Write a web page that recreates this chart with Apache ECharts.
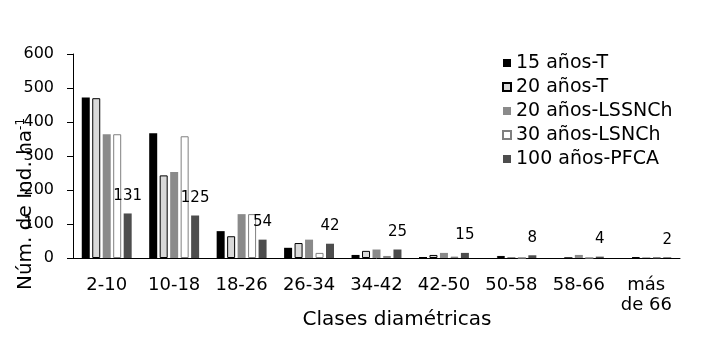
<!DOCTYPE html>
<html><head><meta charset="utf-8">
<script src="https://cdn.jsdelivr.net/npm/echarts@6/dist/echarts.min.js"></script>
<style>html,body{margin:0;padding:0;background:#fff}#c{width:706px;height:337px}</style>
</head><body><div id="c"></div>
<script>
const categories = ['2-10','10-18','18-26','26-34','34-42','42-50','50-58','58-66','más\nde 66'];
const seriesNames = ['15 años-T','20 años-T','20 años-LSSNCh','30 años-LSNCh','100 años-PFCA'];
const s15T = [472, 367, 79, 30, 9, 3, 0, 0, 0];
const s20T = [470, 243, 64, 44, 21, 9, 6, 0, 2];
const s20L = [364, 253, 129, 54, 25, 15, 3, 9, 2];
const s30L = [364, 358, 129, 15, 6, 4, 0, 0, 2];
const s100 = [131, 125, 54, 42, 25, 15, 8, 4, 2];
const yTicks = [0, 100, 200, 300, 400, 500, 600];

const styles = [
  {color:'#000000'},
  {color:'#d9d9d9', borderColor:'#000000', borderWidth:1},
  {color:'#8a8a8a'},
  {color:'#ffffff', borderColor:'#808080', borderWidth:1},
  {color:'#4d4d4d'}
];
const datasets = [s15T, s20T, s20L, s30L, s100];
const font = 'DejaVu Sans, Verdana, sans-serif';

const chart = echarts.init(document.getElementById('c'));
chart.setOption({
  animation:false,
  textStyle:{fontFamily:font},
  grid:{left:73, right:26, top:54, bottom:79, containLabel:false},
  legend:{
    orient:'vertical', left:502, top:53, padding:0, itemGap:4,
    itemWidth:8, itemHeight:8,
    textStyle:{fontSize:19, color:'#000', lineHeight:20, fontFamily:font},
    data: seriesNames.map((n,i)=>({name:n, icon:'rect'}))
  },
  xAxis:{
    type:'category', data:categories,
    axisLine:{lineStyle:{color:'#000', width:1}},
    axisTick:{show:false},
    axisLabel:{fontSize:18, color:'#000', margin:17, lineHeight:20, interval:0, fontFamily:font}
  },
  yAxis:{
    type:'value', min:0, max:600, interval:100,
    axisLine:{show:true, lineStyle:{color:'#000', width:1}},
    axisTick:{show:true, length:6, lineStyle:{color:'#000'}},
    splitLine:{show:false},
    axisLabel:{fontSize:16, color:'#000', margin:19, fontFamily:font,
      formatter:(v)=> yTicks.includes(v) ? String(v) : ''}
  },
  graphic:[
    {type:'text', x:26, y:204, rotation:Math.PI/2,
      style:{text:'{a|Núm. de Ind. ha}{b|-1}', textAlign:'center', textVerticalAlign:'middle',
        rich:{a:{fontSize:20, fontFamily:font, fill:'#000'}, b:{fontSize:12, fontFamily:font, fill:'#000', verticalAlign:'top', padding:[0,0,10,0]}}, fill:'#000'}},
    {type:'text', x:397, y:320,
      style:{text:'Clases diamétricas', textAlign:'center', textVerticalAlign:'middle', fontSize:20, fontFamily:font, fill:'#000'}}
  ],
  series: seriesNames.map((n,i)=>({
    name:n, type:'bar', data:datasets[i], barWidth:8, barGap:'31%',
    itemStyle:styles[i],
    label: i===4 ? {show:true, position:'top', distance:10, fontSize:15, color:'#000', fontFamily:font} : {show:false}
  }))
});
</script></body></html>
